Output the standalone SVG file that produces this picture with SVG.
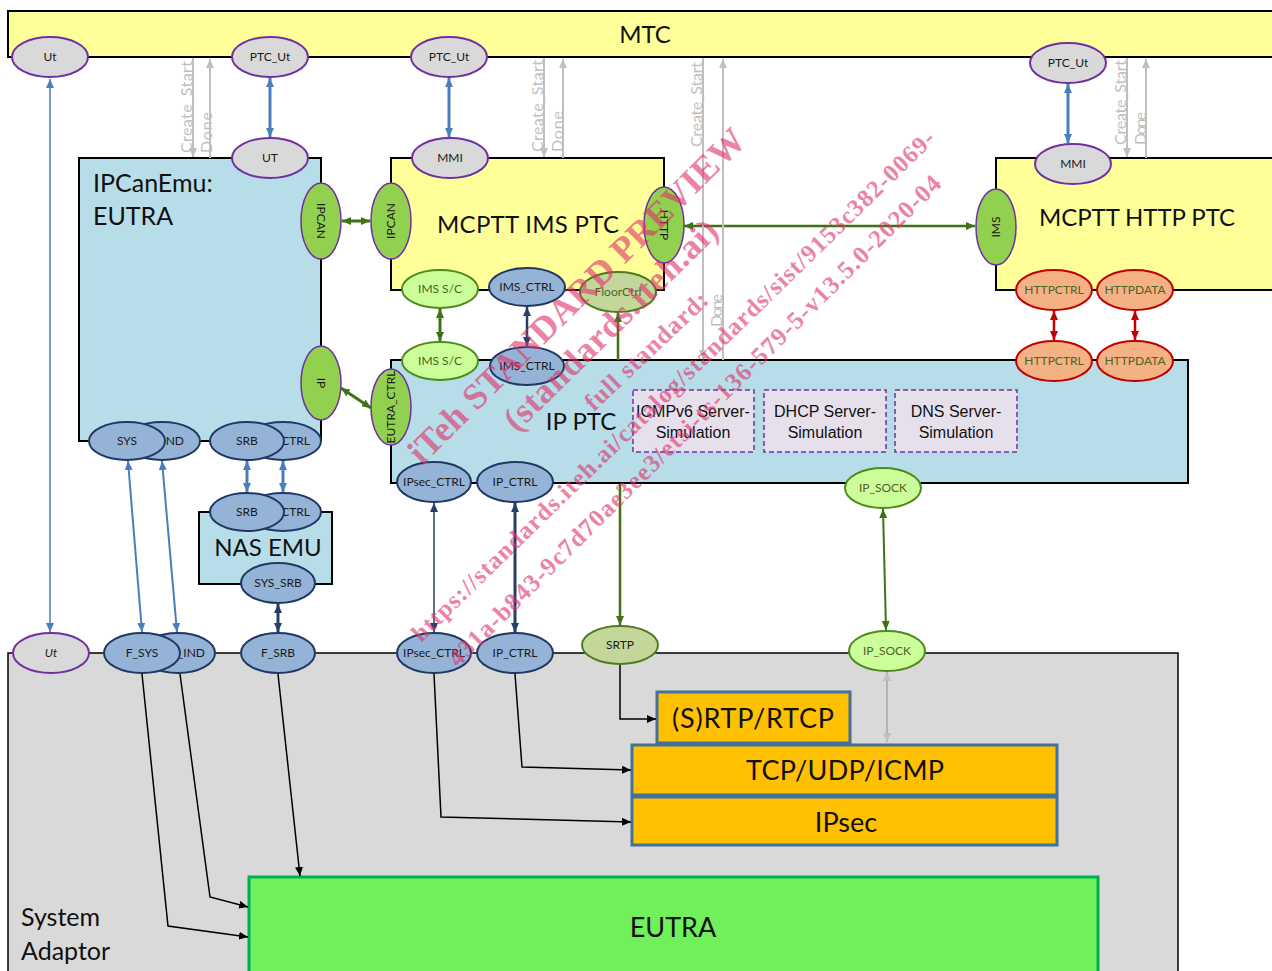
<svg xmlns="http://www.w3.org/2000/svg" width="1272" height="971" viewBox="0 0 1272 971">
<style>
text{font-family:Lato,"Liberation Sans",sans-serif;}
.big{font-size:24px;fill:#111}
.big2{font-size:27px;fill:#111}
.el{font-size:12px;fill:#1a1a1a;text-anchor:middle}
.elg{font-size:12px;fill:#4f6228;text-anchor:middle}
.cs{font-size:16px;fill:#bfbfbf}
.sim{font-family:"Liberation Sans",Arial,sans-serif;font-size:16px;fill:#111;text-anchor:middle}
.gr{fill:#d9d9d9;stroke:#7030a0;stroke-width:2}
.bl{fill:#95b3d7;stroke:#1f3864;stroke-width:2}
.gn{fill:#92d050;stroke:#7030a0;stroke-width:1.5}
.lg{fill:#ccff99;stroke:#4e8a1e;stroke-width:2}
.ol{fill:#c4d79b;stroke:#4f7a1e;stroke-width:2}
.rd{fill:#f4b183;stroke:#c00000;stroke-width:2}
.box{stroke:#000;stroke-width:2}
.lb{fill:#b7dee8}
.yl{fill:#ffff99}
.or{fill:#ffc000;stroke:#41719c;stroke-width:3}
.dash{fill:#e6e0ec;stroke:#7030a0;stroke-width:1.5;stroke-dasharray:5,3}
.c{fill:none}
.wm{font-family:"Liberation Serif","Times New Roman",serif;font-weight:bold;fill:#e0306a;opacity:0.6}
</style>
<defs>
<marker id="aB" viewBox="0 0 9 8" refX="9" refY="4" markerWidth="9" markerHeight="8" markerUnits="userSpaceOnUse" orient="auto-start-reverse"><path d="M0,0 L9,4 L0,8 z" fill="#4a7ebb"/></marker>
<marker id="aN" viewBox="0 0 9 8" refX="9" refY="4" markerWidth="9" markerHeight="8" markerUnits="userSpaceOnUse" orient="auto-start-reverse"><path d="M0,0 L9,4 L0,8 z" fill="#253f66"/></marker>
<marker id="aG" viewBox="0 0 9 8" refX="9" refY="4" markerWidth="9" markerHeight="8" markerUnits="userSpaceOnUse" orient="auto-start-reverse"><path d="M0,0 L9,4 L0,8 z" fill="#3f7215"/></marker>
<marker id="aR" viewBox="0 0 9 8" refX="9" refY="4" markerWidth="9" markerHeight="8" markerUnits="userSpaceOnUse" orient="auto-start-reverse"><path d="M0,0 L9,4 L0,8 z" fill="#c00000"/></marker>
<marker id="aY" viewBox="0 0 9 8" refX="9" refY="4" markerWidth="9" markerHeight="8" markerUnits="userSpaceOnUse" orient="auto-start-reverse"><path d="M0,0 L9,4 L0,8 z" fill="#bfbfbf"/></marker>
<marker id="aK" viewBox="0 0 9 8" refX="9" refY="4" markerWidth="9" markerHeight="8" markerUnits="userSpaceOnUse" orient="auto-start-reverse"><path d="M0,0 L9,4 L0,8 z" fill="#000"/></marker>
</defs>
<rect x="0" y="0" width="1272" height="971" fill="#fff"/>

<g id="mtc">
<rect class="box yl" x="8" y="11" width="1270" height="46"/>
<text class="big" x="645" y="43" text-anchor="middle">MTC</text>
<ellipse class="gr" cx="50" cy="57" rx="38" ry="20"/><text class="el" x="50" y="61">Ut</text>
<ellipse class="gr" cx="270" cy="57" rx="38" ry="20"/><text class="el" x="270" y="61">PTC_Ut</text>
<ellipse class="gr" cx="449" cy="57" rx="38" ry="20"/><text class="el" x="449" y="61">PTC_Ut</text>
<ellipse class="gr" cx="1068" cy="63" rx="38" ry="20"/><text class="el" x="1068" y="67">PTC_Ut</text>
</g>

<g id="ipcanemu">
<rect class="box lb" x="79" y="158" width="242" height="283"/>
<text class="big" x="93" y="192" style="font-size:25px">IPCanEmu:</text>
<text class="big" x="93" y="225" style="font-size:25px">EUTRA</text>
<ellipse class="gr" cx="270" cy="158" rx="38" ry="20"/><text class="el" x="270" y="162">UT</text>
<ellipse class="gn" cx="321" cy="221" rx="20" ry="38"/><text class="el" transform="translate(321,221) rotate(90)" y="4">IPCAN</text>
<ellipse class="gn" cx="321" cy="383" rx="20" ry="37"/><text class="el" transform="translate(321,383) rotate(90)" y="4">IP</text>
<ellipse class="bl" cx="162" cy="441" rx="38" ry="19"/><text class="el" x="184" y="445" style="text-anchor:end">IND</text>
<ellipse class="bl" cx="127" cy="441" rx="38" ry="19"/><text class="el" x="127" y="445">SYS</text>
<ellipse class="bl" cx="283" cy="441" rx="38" ry="19"/><text class="el" x="310" y="445" style="text-anchor:end">CTRL</text>
<ellipse class="bl" cx="247" cy="441" rx="37" ry="19"/><text class="el" x="247" y="445">SRB</text>
</g>

<g id="mcptt-ims-ptc">
<rect class="box yl" x="391" y="158" width="273" height="132"/>
<text class="big" x="528" y="233" text-anchor="middle" textLength="182">MCPTT IMS PTC</text>
<ellipse class="gr" cx="450" cy="158" rx="38" ry="20"/><text class="el" x="450" y="162">MMI</text>
<ellipse class="gn" cx="391" cy="221" rx="20" ry="38"/><text class="el" transform="translate(391,221) rotate(-90)" y="4">IPCAN</text>
<ellipse class="gn" cx="664" cy="225" rx="20" ry="38"/><text class="el" transform="translate(664,225) rotate(90)" y="4">HTTP</text>
<ellipse class="lg" cx="440" cy="289" rx="38" ry="19"/><text class="elg" x="440" y="293">IMS S/C</text>
<ellipse class="bl" cx="527" cy="287" rx="38" ry="19"/><text class="el" x="527" y="291">IMS_CTRL</text>
<ellipse class="ol" cx="618" cy="292" rx="38" ry="20"/><text class="elg" x="618" y="296">FloorCtrl</text>
</g>

<g id="mcptt-http-ptc">
<rect class="box yl" x="996" y="158" width="290" height="132"/>
<text class="big" x="1137" y="226" text-anchor="middle" textLength="196">MCPTT HTTP PTC</text>
<ellipse class="gr" cx="1073" cy="164" rx="38" ry="20"/><text class="el" x="1073" y="168">MMI</text>
<ellipse class="gn" cx="996" cy="227" rx="20" ry="38"/><text class="el" transform="translate(996,227) rotate(-90)" y="4">IMS</text>
<ellipse class="rd" cx="1054" cy="290" rx="38" ry="20"/><text class="elg" x="1054" y="294">HTTPCTRL</text>
<ellipse class="rd" cx="1135" cy="290" rx="38" ry="20"/><text class="elg" x="1135" y="294">HTTPDATA</text>
</g>

<g id="ip-ptc">
<rect class="box lb" x="391" y="360" width="797" height="123"/>
<text class="big" x="581" y="430" text-anchor="middle">IP PTC</text>
<rect class="dash" x="633" y="390" width="121" height="62"/>
<text class="sim" x="693" y="417">ICMPv6 Server-</text><text class="sim" x="693" y="438">Simulation</text>
<rect class="dash" x="764" y="390" width="122" height="62"/>
<text class="sim" x="825" y="417">DHCP Server-</text><text class="sim" x="825" y="438">Simulation</text>
<rect class="dash" x="895" y="390" width="122" height="62"/>
<text class="sim" x="956" y="417">DNS Server-</text><text class="sim" x="956" y="438">Simulation</text>
<ellipse class="lg" cx="440" cy="361" rx="38" ry="19"/><text class="elg" x="440" y="365">IMS S/C</text>
<ellipse class="bl" cx="527" cy="366" rx="37" ry="19"/><text class="el" x="527" y="370">IMS_CTRL</text>
<ellipse class="rd" cx="1054" cy="361" rx="38" ry="20"/><text class="elg" x="1054" y="365">HTTPCTRL</text>
<ellipse class="rd" cx="1135" cy="361" rx="38" ry="20"/><text class="elg" x="1135" y="365">HTTPDATA</text>
<ellipse class="gn" cx="391" cy="407" rx="20" ry="38"/><text class="el" style="font-size:12px" transform="translate(391,407) rotate(-90)" y="4">EUTRA_CTRL</text>
<ellipse class="bl" cx="434" cy="482" rx="37" ry="20"/><text class="el" x="434" y="486">IPsec_CTRL</text>
<ellipse class="bl" cx="515" cy="482" rx="38" ry="20"/><text class="el" x="515" y="486">IP_CTRL</text>
<ellipse class="lg" cx="883" cy="488" rx="38" ry="20"/><text class="elg" x="883" y="492">IP_SOCK</text>
</g>

<g id="nas-emu">
<rect class="box lb" x="199" y="512" width="133" height="72"/>
<text class="big" x="268" y="556" text-anchor="middle">NAS EMU</text>
<ellipse class="bl" cx="283" cy="512" rx="38" ry="19"/><text class="el" x="310" y="516" style="text-anchor:end">CTRL</text>
<ellipse class="bl" cx="247" cy="512" rx="37" ry="19"/><text class="el" x="247" y="516">SRB</text>
<ellipse class="bl" cx="278" cy="583" rx="37" ry="20"/><text class="el" x="278" y="587">SYS_SRB</text>
</g>

<g id="system-adaptor">
<rect x="8" y="653" width="1170" height="330" fill="#d9d9d9" stroke="#000" stroke-width="1.5"/>
<text class="big" x="21" y="926" style="font-size:25px">System</text>
<text class="big" x="21" y="960" style="font-size:25px">Adaptor</text>
<ellipse class="gr" cx="51" cy="653" rx="38" ry="20"/><text class="el" x="51" y="657" font-style="italic">Ut</text>
<ellipse class="bl" cx="178" cy="653" rx="37" ry="20"/><text class="el" x="205" y="657" style="text-anchor:end">F_IND</text>
<ellipse class="bl" cx="142" cy="653" rx="38" ry="20"/><text class="el" x="142" y="657">F_SYS</text>
<ellipse class="bl" cx="278" cy="653" rx="37" ry="20"/><text class="el" x="278" y="657">F_SRB</text>
<ellipse class="bl" cx="434" cy="653" rx="37" ry="20"/><text class="el" x="434" y="657">IPsec_CTRL</text>
<ellipse class="bl" cx="515" cy="653" rx="38" ry="20"/><text class="el" x="515" y="657">IP_CTRL</text>
<ellipse class="ol" cx="620" cy="645" rx="38" ry="19"/><text class="el" x="620" y="649">SRTP</text>
<ellipse class="lg" cx="887" cy="651" rx="38" ry="20"/><text class="elg" x="887" y="655">IP_SOCK</text>
<g id="srtp-box"><rect class="or" x="657" y="692" width="193" height="51"/><text class="big2" x="753" y="728" text-anchor="middle" textLength="162">(S)RTP/RTCP</text></g>
<g id="tcp-box"><rect class="or" x="632" y="745" width="425" height="50"/><text class="big2" x="845" y="780" text-anchor="middle" textLength="198">TCP/UDP/ICMP</text></g>
<g id="ipsec-box"><rect class="or" x="632" y="797" width="425" height="48"/><text class="big2" x="846" y="832" text-anchor="middle">IPsec</text></g>
<g id="eutra-box"><rect x="249" y="877" width="849" height="110" fill="#70f05a" stroke="#00b050" stroke-width="3"/><text class="big2" x="673" y="937" text-anchor="middle">EUTRA</text></g>
</g>

<g id="connectors" class="c">
<g stroke="#4a7ebb" fill="none">
<path d="M50,79 L50,632" stroke-width="1.5" marker-start="url(#aB)" marker-end="url(#aB)"/>
<path d="M270,78 L270,137" stroke-width="3" marker-start="url(#aB)" marker-end="url(#aB)"/>
<path d="M449,78 L449,137" stroke-width="3" marker-start="url(#aB)" marker-end="url(#aB)"/>
<path d="M1068,84 L1068,143" stroke-width="3" marker-start="url(#aB)" marker-end="url(#aB)"/>
<path d="M128,461 L142,632" stroke-width="2" marker-start="url(#aB)" marker-end="url(#aB)"/>
<path d="M162,461 L177,632" stroke-width="2" marker-start="url(#aB)" marker-end="url(#aB)"/>
<path d="M247,461 L247,492" stroke-width="3" marker-start="url(#aB)" marker-end="url(#aB)"/>
<path d="M283,461 L283,492" stroke-width="3" marker-start="url(#aB)" marker-end="url(#aB)"/>
</g>
<g stroke="#253f66" fill="none">
<path d="M527,307 L527,346" stroke-width="2.5" marker-start="url(#aN)" marker-end="url(#aN)"/>
<path d="M278,604 L278,632" stroke-width="3" marker-start="url(#aN)" marker-end="url(#aN)"/>
<path d="M434,503 L434,632" stroke-width="1.5" marker-start="url(#aN)" marker-end="url(#aN)"/>
<path d="M515,503 L515,632" stroke-width="3" marker-start="url(#aN)" marker-end="url(#aN)"/>
</g>
<g stroke="#3f7215" fill="none">
<path d="M342,221 L370,221" stroke-width="3" marker-start="url(#aG)" marker-end="url(#aG)"/>
<path d="M341,388 L371,408" stroke-width="3" marker-start="url(#aG)" marker-end="url(#aG)"/>
<path d="M440,309 L440,341" stroke-width="3" marker-start="url(#aG)" marker-end="url(#aG)"/>
<path d="M618,360 L618,313" stroke-width="2.5" marker-end="url(#aG)"/>
<path d="M684,226 L975,226" stroke-width="2.5" marker-start="url(#aG)" marker-end="url(#aG)"/>
<path d="M620,484 L620,625" stroke-width="2.5" marker-end="url(#aG)"/>
<path d="M883,509 L886,630" stroke-width="2" marker-start="url(#aG)" marker-end="url(#aG)"/>
</g>
<g stroke="#c00000" fill="none">
<path d="M1054,311 L1054,340" stroke-width="2.5" marker-start="url(#aR)" marker-end="url(#aR)"/>
<path d="M1135,311 L1135,340" stroke-width="2.5" marker-start="url(#aR)" marker-end="url(#aR)"/>
</g>
<g stroke="#bfbfbf" fill="none" stroke-width="2">
<path d="M193,58 L193,157" marker-end="url(#aY)"/><path d="M210,158 L210,59" marker-end="url(#aY)"/>
<path d="M544,58 L544,157" marker-end="url(#aY)"/><path d="M563,158 L563,59" marker-end="url(#aY)"/>
<path d="M703,58 L703,359" marker-end="url(#aY)"/><path d="M723,360 L723,59" marker-end="url(#aY)"/>
<path d="M1127,58 L1127,157" marker-end="url(#aY)"/><path d="M1146,158 L1146,59" marker-end="url(#aY)"/>
<path d="M887,672 L887,742" stroke="#a6a6a6" stroke-width="1.5" marker-start="url(#aY)" marker-end="url(#aY)"/>
</g>
<text class="cs" transform="translate(192,153) rotate(-90)" textLength="92">Create_Start</text>
<text class="cs" transform="translate(212,153) rotate(-90)" textLength="41">Done</text>
<text class="cs" transform="translate(543,152) rotate(-90)" textLength="92">Create_Start</text>
<text class="cs" transform="translate(563,152) rotate(-90)" textLength="41">Done</text>
<text class="cs" transform="translate(702,147) rotate(-90)" textLength="85">Create_Start</text>
<text class="cs" transform="translate(722,327) rotate(-90)" textLength="33">Done</text>
<text class="cs" transform="translate(1126,145) rotate(-90)" textLength="85">Create_Start</text>
<text class="cs" transform="translate(1146,145) rotate(-90)" textLength="33">Done</text>
<g stroke="#000" fill="none" stroke-width="1.5">
<path d="M620,665 L620,719 L656,719" marker-end="url(#aK)"/>
<path d="M515,674 L522,767 L631,770" marker-end="url(#aK)"/>
<path d="M434,674 L441,817 L631,822" marker-end="url(#aK)"/>
<path d="M278,674 L300,876" marker-end="url(#aK)"/>
<path d="M180,674 L210,897 L248,907" marker-end="url(#aK)"/>
<path d="M142,674 L168,926 L248,937" marker-end="url(#aK)"/>
</g>
</g>

<g id="watermark">
<text class="wm" font-size="36" transform="translate(422,466) rotate(-44.8)" textLength="459">iTeh STANDARD PREVIEW</text>
<text class="wm" font-size="35" transform="translate(517,433) rotate(-44.5)" textLength="285">(standards.iteh.ai)</text>
<text class="wm" font-size="25" transform="translate(594,412) rotate(-43.5)" textLength="160">full standard:</text>
<text class="wm" font-size="24.5" transform="translate(421,643) rotate(-44.3)" textLength="720">https://standards.iteh.ai/catalog/standards/sist/9153c382-0069-</text>
<text class="wm" font-size="25" transform="translate(458,668) rotate(-44.9)" textLength="684">431a-b843-9c7d70ae3ee3/etsi-ts-136-579-5-v13.5.0-2020-04</text>
</g>
</svg>
